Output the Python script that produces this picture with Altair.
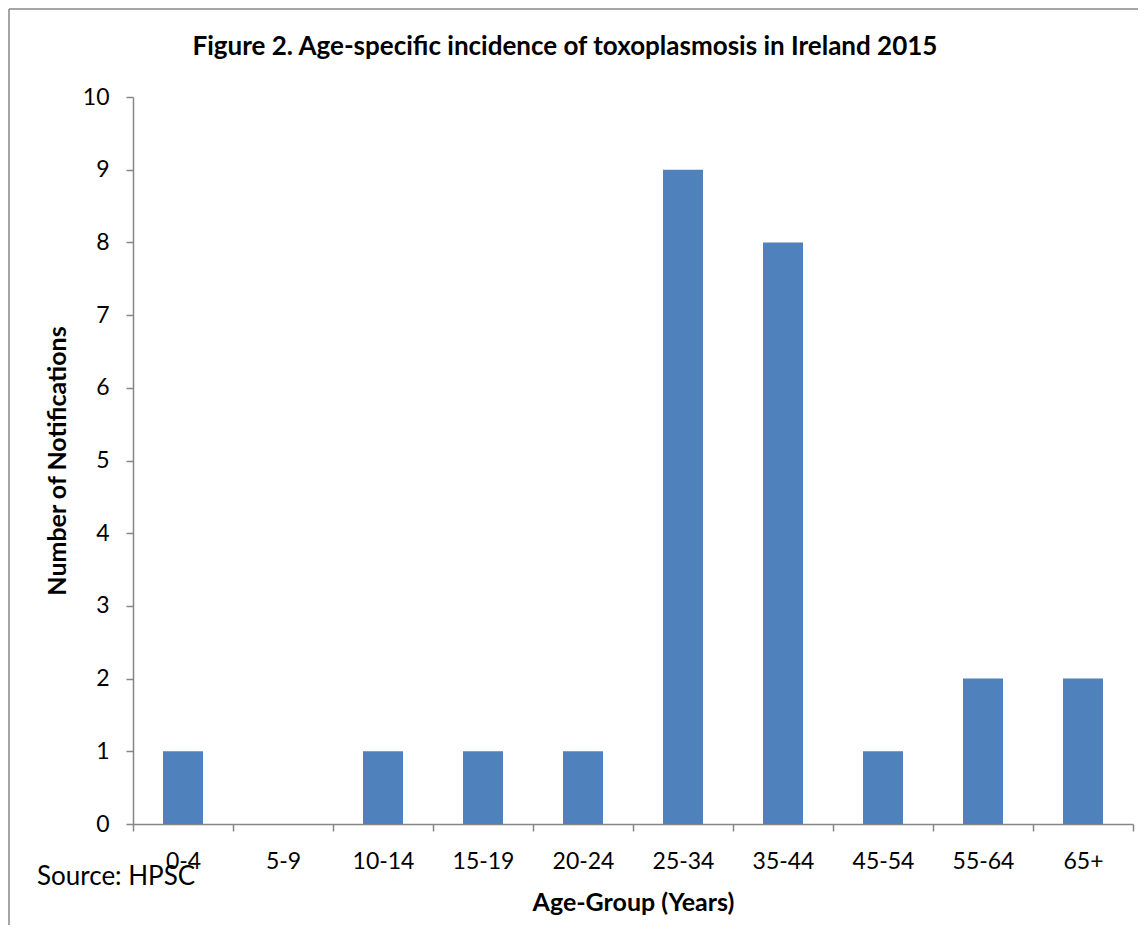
import json
import altair as alt
import pandas as pd

age_groups = ["0-4", "5-9", "10-14", "15-19", "20-24", "25-34", "35-44", "45-54", "55-64", "65+"]
notifications = [1, 0, 1, 1, 1, 9, 8, 1, 2, 2]
y_ticks = list(range(0, 11))
x_ticks = list(range(0, 11))

df = pd.DataFrame({"age": age_groups, "count": notifications, "i": list(range(len(age_groups)))})

FONT = "Lato"
AXIS_COLOR = "#868686"
BAR_COLOR = "#4F81BD"

# label for the tick at the right edge of each band, shifted back to the band centre
label_expr = "datum.value > 0 ? %s[datum.value - 1] : ''" % json.dumps(age_groups).replace('"', "'")

x_scale = alt.Scale(domain=[0, 10], nice=False, zero=False)
y_scale = alt.Scale(domain=[0, 10], nice=False)

bars = alt.Chart(df).transform_calculate(
    x0="datum.i + 0.3", x1="datum.i + 0.7"
).mark_bar(color=BAR_COLOR).encode(
    x=alt.X("x0:Q", scale=x_scale, title="Age-Group (Years)",
            axis=alt.Axis(values=x_ticks, labelExpr=label_expr, labelOffset=-50,
                          labelFlush=False, labelOverlap=False, labelBound=False,
                          tickSize=7, labelPadding=19, titlePadding=17)),
    x2="x1:Q",
    y=alt.Y("count:Q", scale=y_scale, title="Number of Notifications",
            axis=alt.Axis(values=y_ticks, tickSize=7, labelPadding=17, titlePadding=12)),
    y2=alt.datum(0),
)

dummy = pd.DataFrame({"a": [0]})
border_top = alt.Chart(dummy).mark_rule(color="#878787", strokeWidth=1.5).encode(
    x=alt.value(-124), x2=alt.value(1005), y=alt.value(-88)
)
border_left = alt.Chart(dummy).mark_rule(color="#878787", strokeWidth=1.5).encode(
    x=alt.value(-124), y=alt.value(-88), y2=alt.value(828)
)
title = alt.Chart(dummy).mark_text(align="center", baseline="alphabetic", fontSize=26,
                                    font=FONT, fontWeight="bold", color="black").encode(
    x=alt.value(432), y=alt.value(-42),
    text=alt.value("Figure 2. Age-specific incidence of toxoplasmosis in Ireland 2015"),
)
source = alt.Chart(dummy).mark_text(align="left", baseline="alphabetic", fontSize=26,
                                     font=FONT, color="black").encode(
    x=alt.value(-96), y=alt.value(788), text=alt.value("Source: HPSC")
)

chart = alt.layer(border_top, border_left, bars, source, title).properties(
    width=1000, height=727, padding=0,
).configure_view(stroke=None).configure_axis(
    domainColor=AXIS_COLOR, domainWidth=1.5, tickColor=AXIS_COLOR, tickWidth=1.5,
    grid=False, labelFont=FONT, labelFontSize=23, labelColor="black",
    titleFont=FONT, titleFontSize=25, titleFontWeight="bold", titleColor="black",
)

chart.save("out.html", embed_options={"renderer": "svg", "actions": False})
